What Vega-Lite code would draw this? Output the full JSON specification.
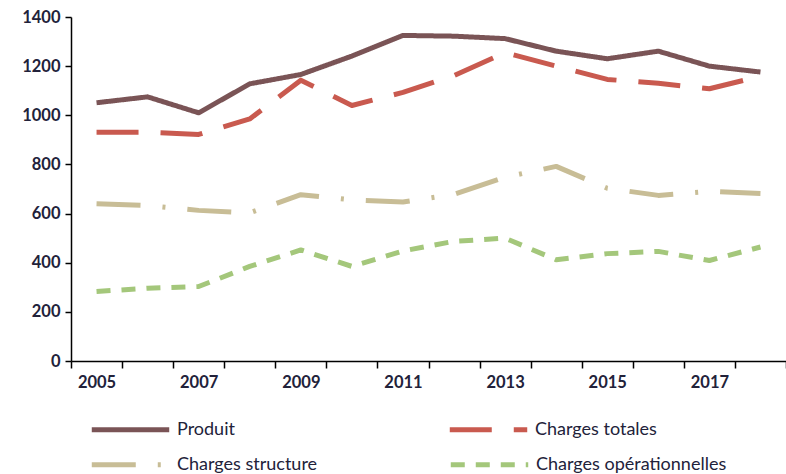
{
  "$schema": "https://vega.github.io/schema/vega-lite/v6.json",
  "width": 715,
  "height": 344,
  "autosize": {"type": "none"},
  "padding": {"left": 71, "top": 17, "right": 0, "bottom": 113},
  "background": "white",
  "config": {"view": {"stroke": null}, "font": "Lato"},
  "data": {
    "values": [
      {"year": 2005, "serie": "Produit", "value": 1051},
      {"year": 2006, "serie": "Produit", "value": 1075},
      {"year": 2007, "serie": "Produit", "value": 1010},
      {"year": 2008, "serie": "Produit", "value": 1128},
      {"year": 2009, "serie": "Produit", "value": 1166},
      {"year": 2010, "serie": "Produit", "value": 1241},
      {"year": 2011, "serie": "Produit", "value": 1325},
      {"year": 2012, "serie": "Produit", "value": 1322},
      {"year": 2013, "serie": "Produit", "value": 1312},
      {"year": 2014, "serie": "Produit", "value": 1261},
      {"year": 2015, "serie": "Produit", "value": 1230},
      {"year": 2016, "serie": "Produit", "value": 1261},
      {"year": 2017, "serie": "Produit", "value": 1200},
      {"year": 2018, "serie": "Produit", "value": 1176},
      {"year": 2005, "serie": "Charges totales", "value": 931},
      {"year": 2006, "serie": "Charges totales", "value": 931},
      {"year": 2007, "serie": "Charges totales", "value": 922},
      {"year": 2008, "serie": "Charges totales", "value": 985},
      {"year": 2009, "serie": "Charges totales", "value": 1143},
      {"year": 2010, "serie": "Charges totales", "value": 1040},
      {"year": 2011, "serie": "Charges totales", "value": 1093},
      {"year": 2012, "serie": "Charges totales", "value": 1162},
      {"year": 2013, "serie": "Charges totales", "value": 1255},
      {"year": 2014, "serie": "Charges totales", "value": 1200},
      {"year": 2015, "serie": "Charges totales", "value": 1146},
      {"year": 2016, "serie": "Charges totales", "value": 1130},
      {"year": 2017, "serie": "Charges totales", "value": 1108},
      {"year": 2018, "serie": "Charges totales", "value": 1159},
      {"year": 2005, "serie": "Charges structure", "value": 640},
      {"year": 2006, "serie": "Charges structure", "value": 633},
      {"year": 2007, "serie": "Charges structure", "value": 613},
      {"year": 2008, "serie": "Charges structure", "value": 603},
      {"year": 2009, "serie": "Charges structure", "value": 677},
      {"year": 2010, "serie": "Charges structure", "value": 656},
      {"year": 2011, "serie": "Charges structure", "value": 647},
      {"year": 2012, "serie": "Charges structure", "value": 678},
      {"year": 2013, "serie": "Charges structure", "value": 748},
      {"year": 2014, "serie": "Charges structure", "value": 792},
      {"year": 2015, "serie": "Charges structure", "value": 703},
      {"year": 2016, "serie": "Charges structure", "value": 674},
      {"year": 2017, "serie": "Charges structure", "value": 690},
      {"year": 2018, "serie": "Charges structure", "value": 682},
      {"year": 2005, "serie": "Charges opérationnelles", "value": 283},
      {"year": 2006, "serie": "Charges opérationnelles", "value": 296},
      {"year": 2007, "serie": "Charges opérationnelles", "value": 303},
      {"year": 2008, "serie": "Charges opérationnelles", "value": 385},
      {"year": 2009, "serie": "Charges opérationnelles", "value": 452},
      {"year": 2010, "serie": "Charges opérationnelles", "value": 385},
      {"year": 2011, "serie": "Charges opérationnelles", "value": 448},
      {"year": 2012, "serie": "Charges opérationnelles", "value": 487},
      {"year": 2013, "serie": "Charges opérationnelles", "value": 500},
      {"year": 2014, "serie": "Charges opérationnelles", "value": 412},
      {"year": 2015, "serie": "Charges opérationnelles", "value": 437},
      {"year": 2016, "serie": "Charges opérationnelles", "value": 446},
      {"year": 2017, "serie": "Charges opérationnelles", "value": 409},
      {"year": 2018, "serie": "Charges opérationnelles", "value": 464}
    ]
  },
  "mark": {"type": "line", "strokeWidth": 5, "strokeJoin": "round"},
  "encoding": {
    "x": {
      "field": "year",
      "type": "ordinal",
      "scale": {"type": "band", "paddingInner": 0, "paddingOuter": 0},
      "axis": {
        "title": null,
        "tickBand": "extent",
        "labelAngle": 0,
        "labelExpr": "datum.value % 2 == 1 ? datum.label : ''",
        "domainColor": "#000000",
        "domainWidth": 1.5,
        "tickColor": "#000000",
        "tickWidth": 1.5,
        "tickSize": 7,
        "labelPadding": 6,
        "labelFont": "Lato",
        "labelFontSize": 16.5,
        "labelFontWeight": "bold",
        "labelColor": "#22223a"
      }
    },
    "y": {
      "field": "value",
      "type": "quantitative",
      "scale": {"domain": [0, 1400]},
      "axis": {
        "title": null,
        "grid": false,
        "format": "d",
        "values": [0, 200, 400, 600, 800, 1000, 1200, 1400],
        "domainColor": "#000000",
        "domainWidth": 1.5,
        "tickColor": "#000000",
        "tickWidth": 1.5,
        "tickSize": 6,
        "labelPadding": 5,
        "labelFont": "Lato",
        "labelFontSize": 16.5,
        "labelFontWeight": "bold",
        "labelColor": "#22223a"
      }
    },
    "color": {
      "field": "serie",
      "type": "nominal",
      "sort": ["Produit", "Charges totales", "Charges structure", "Charges opérationnelles"],
      "scale": {
        "domain": ["Produit", "Charges totales", "Charges structure", "Charges opérationnelles"],
        "range": ["#7a5456", "#c95a4f", "#c8bd96", "#a4c77b"]
      },
      "legend": {
        "title": null,
        "orient": "none",
        "direction": "horizontal",
        "values": ["Produit", "Charges totales"],
        "legendX": 18,
        "legendY": 371,
        "columnPadding": 204,
        "symbolType": "stroke",
        "symbolSize": 6000,
        "symbolStrokeWidth": 5,
        "labelFont": "Lato",
        "labelFontSize": 18,
        "labelColor": "#22223a",
        "labelOffset": 5,
        "labelLimit": 320,
        "encode": {
          "symbols": {
            "update": {
              "strokeDash": {"scale": "strokeDash", "field": "value"}
            }
          }
        }
      }
    },
    "strokeDash": {
      "field": "serie",
      "type": "nominal",
      "scale": {
        "domain": ["Charges structure", "Charges opérationnelles", "Produit", "Charges totales"],
        "range": [[44, 22, 3, 22], [14, 11], [1, 0], [42, 22]]
      },
      "legend": {
        "title": null,
        "orient": "none",
        "direction": "horizontal",
        "values": ["Charges structure", "Charges opérationnelles"],
        "legendX": 18,
        "legendY": 406,
        "columnPadding": 122,
        "symbolType": "stroke",
        "symbolSize": 6000,
        "symbolStrokeWidth": 5,
        "labelFont": "Lato",
        "labelFontSize": 18,
        "labelColor": "#22223a",
        "labelOffset": 5,
        "labelLimit": 320,
        "encode": {
          "symbols": {
            "update": {
              "stroke": {"scale": "color", "field": "value"}
            }
          }
        }
      }
    }
  }
}
